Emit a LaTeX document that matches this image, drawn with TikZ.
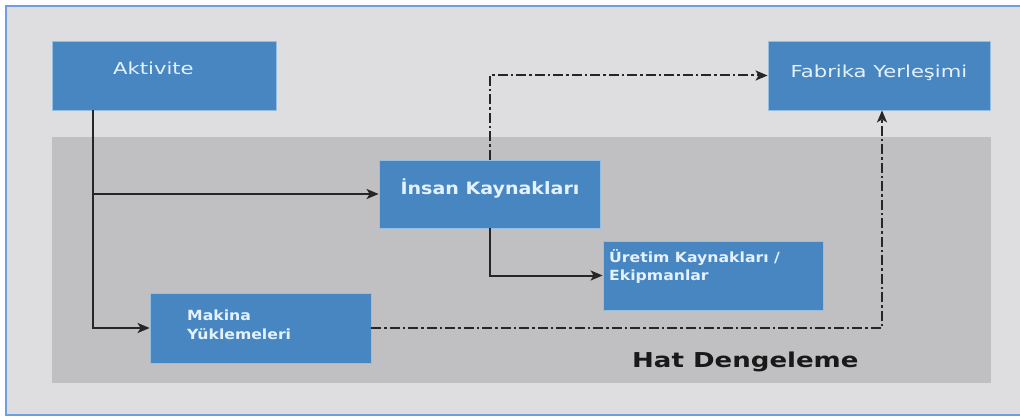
\documentclass[tikz,border=0pt]{standalone}
\usepackage{fontspec}
\usetikzlibrary{arrows.meta}
\newfontfamily\lblfont[FakeStretch=1.28]{DejaVu Sans}
\newfontfamily\lblbold[FakeStretch=1.12]{DejaVu Sans Bold}
\newfontfamily\capbold[FakeStretch=1.27]{DejaVu Sans Bold}
\definecolor{pagebg}{RGB}{222,222,224}
\definecolor{framebl}{RGB}{110,160,225}
\definecolor{panelgr}{RGB}{192,192,194}
\definecolor{boxblue}{RGB}{72,134,194}
\definecolor{boxedge}{RGB}{150,190,225}
\definecolor{boxtext}{RGB}{228,242,255}
\tikzset{
  x=1pt, y=-1pt,
  bluebox/.style={draw=boxedge, line width=0.8pt, fill=boxblue, inner sep=0pt,
    minimum width=#1, minimum height=69pt},
  bluebox/.default=221pt,
  boxlbl/.style={text=boxtext, inner sep=0pt},
  flow/.style={line width=2pt, draw=black!85, -{Stealth[length=12pt,width=10pt,inset=3pt]}},
  flowdd/.style={flow, dash pattern=on 10pt off 3pt on 2.5pt off 3pt}
}
\begin{document}
\begin{tikzpicture}
\useasboundingbox (0,0) rectangle (1020,417);
% page background and frame
\fill[white] (0,0) rectangle (1020,417);
\fill[pagebg] (6,6) rectangle (1024,415);
\draw[framebl, line width=1.5pt] (1024,6) -- (6,6) -- (6,415) -- (1024,415);
% grey panel
\fill[panelgr] (52,137) rectangle (991,383);

% boxes
\node[bluebox=224pt] (akt) at (164,75.5) {};
\node[bluebox=222pt] (fab) at (879,75.5) {};
\node[bluebox=221pt, minimum height=68pt] (ins) at (489.5,194) {};
\node[bluebox=220pt] (ure) at (713,275.5) {};
\node[bluebox=221pt, minimum height=70pt] (mak) at (260.5,328) {};

% box texts
\node[boxlbl, font=\lblfont\fontsize{16.5}{18}\selectfont, anchor=base west] (aktT) at (113,75) {Aktivite};
\node[boxlbl, font=\lblfont\fontsize{16.5}{18}\selectfont, anchor=base] (fabT) at (879,78) {Fabrika Yerleşimi};
\node[boxlbl, font=\lblbold\fontsize{17}{18}\selectfont, anchor=base] (insT) at (490,194) {İnsan Kaynakları};
\node[boxlbl, font=\lblbold\fontsize{14}{18}\selectfont, anchor=base west] (ureT1) at (609,262) {Üretim Kaynakları /};
\node[boxlbl, font=\lblbold\fontsize{14}{18}\selectfont, anchor=base west] (ureT2) at (609,280) {Ekipmanlar};
\node[boxlbl, font=\lblbold\fontsize{14}{18}\selectfont, anchor=base west] (makT1) at (187,320) {Makina};
\node[boxlbl, font=\lblbold\fontsize{14}{18}\selectfont, anchor=base west] (makT2) at (187,339) {Yüklemeleri};

% panel caption
\node[inner sep=0pt, anchor=base west, font=\capbold\fontsize{20.5}{22}\selectfont, text=black!90] (hat) at (632,367) {Hat Dengeleme};

% connectors
\coordinate (split) at (93,194);
\draw[flow] (akt.south -| split) |- (mak.west);
\draw[flow] (split) -- (ins.west);
\draw[flow] (ins.south) |- (ure.west);
\draw[flowdd] (ins.north) |- (fab.west);
\draw[flowdd] (mak.east) -| ([xshift=3pt]fab.south);
\end{tikzpicture}
\end{document}
